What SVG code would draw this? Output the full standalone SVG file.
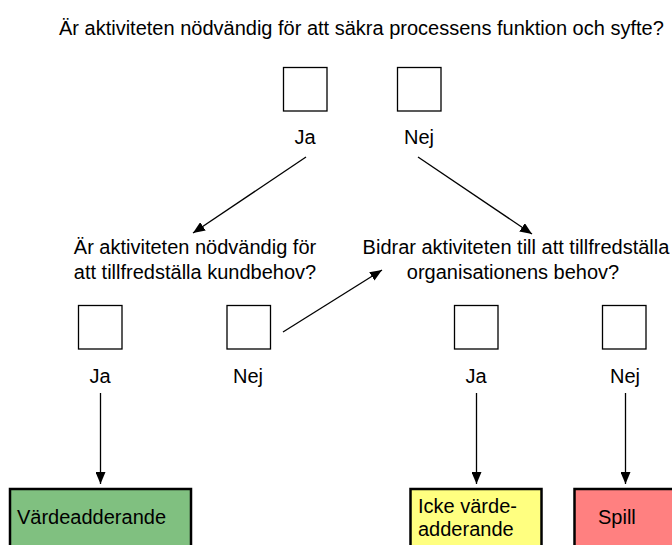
<svg xmlns="http://www.w3.org/2000/svg" width="672" height="545" viewBox="0 0 672 545">
  <defs>
    <marker id="arrow" viewBox="0 0 12 10" refX="12" refY="5" markerWidth="12" markerHeight="10" markerUnits="userSpaceOnUse" orient="auto">
      <path d="M0,0 L12,5 L0,10 Z" fill="#000"/>
    </marker>
    <style>
      text { font-family: "Liberation Sans", Arial, sans-serif; font-size: 20px; fill: #000; }
      .mid { text-anchor: middle; }
      .check { fill: #fff; stroke: #000; stroke-width: 1.3; }
      .result { stroke: #000; stroke-width: 2.5; }
      .link { stroke: #000; stroke-width: 1.3; fill: none; marker-end: url(#arrow); }
    </style>
  </defs>
  <rect width="672" height="545" fill="#fff"/>

  <!-- main question -->
  <g id="q1">
    <text x="59" y="35">Är aktiviteten nödvändig för att säkra processens funktion och syfte?</text>
  </g>
  <g id="q1-ja">
    <rect class="check" x="283.5" y="67.5" width="43.5" height="43.5"/>
    <text class="mid" x="305" y="144">Ja</text>
  </g>
  <g id="q1-nej">
    <rect class="check" x="397.5" y="67.5" width="43.5" height="43.5"/>
    <text class="mid" x="419" y="144">Nej</text>
  </g>

  <!-- customer need question -->
  <g id="q2">
    <text class="mid" x="195" y="254">Är aktiviteten nödvändig för</text>
    <text class="mid" x="195" y="279">att tillfredställa kundbehov?</text>
  </g>
  <g id="q2-ja">
    <rect class="check" x="78.5" y="305.5" width="43.5" height="43.5"/>
    <text class="mid" x="100" y="383">Ja</text>
  </g>
  <g id="q2-nej">
    <rect class="check" x="227" y="305.5" width="43.5" height="43.5"/>
    <text class="mid" x="248" y="383">Nej</text>
  </g>

  <!-- organisation need question -->
  <g id="q3">
    <text class="mid" x="516" y="254">Bidrar aktiviteten till att tillfredställa</text>
    <text class="mid" x="513" y="279">organisationens behov?</text>
  </g>
  <g id="q3-ja">
    <rect class="check" x="454.5" y="305.5" width="43.5" height="43.5"/>
    <text class="mid" x="476" y="383">Ja</text>
  </g>
  <g id="q3-nej">
    <rect class="check" x="602.5" y="305.5" width="43.5" height="43.5"/>
    <text class="mid" x="625" y="383">Nej</text>
  </g>

  <!-- outcomes -->
  <g id="vardeadderande">
    <rect class="result" x="10" y="489" width="181" height="70" fill="#80c080"/>
    <text x="17" y="524">Värdeadderande</text>
  </g>
  <g id="icke-vardeadderande">
    <rect class="result" x="410.5" y="489" width="131" height="70" fill="#ffff80"/>
    <text x="418" y="513">Icke värde-</text>
    <text x="418" y="536">adderande</text>
  </g>
  <g id="spill">
    <rect class="result" x="574.5" y="489" width="110" height="70" fill="#ff8080"/>
    <text x="598" y="524">Spill</text>
  </g>

  <!-- connectors -->
  <g id="connectors">
    <line class="link" x1="306" y1="157" x2="193" y2="233"/>
    <line class="link" x1="418" y1="157" x2="532" y2="234"/>
    <line class="link" x1="283" y1="332" x2="382" y2="270"/>
    <line class="link" x1="100.5" y1="393" x2="100.5" y2="484"/>
    <line class="link" x1="476.5" y1="393" x2="476.5" y2="484"/>
    <line class="link" x1="625.5" y1="393" x2="625.5" y2="484"/>
  </g>
</svg>
